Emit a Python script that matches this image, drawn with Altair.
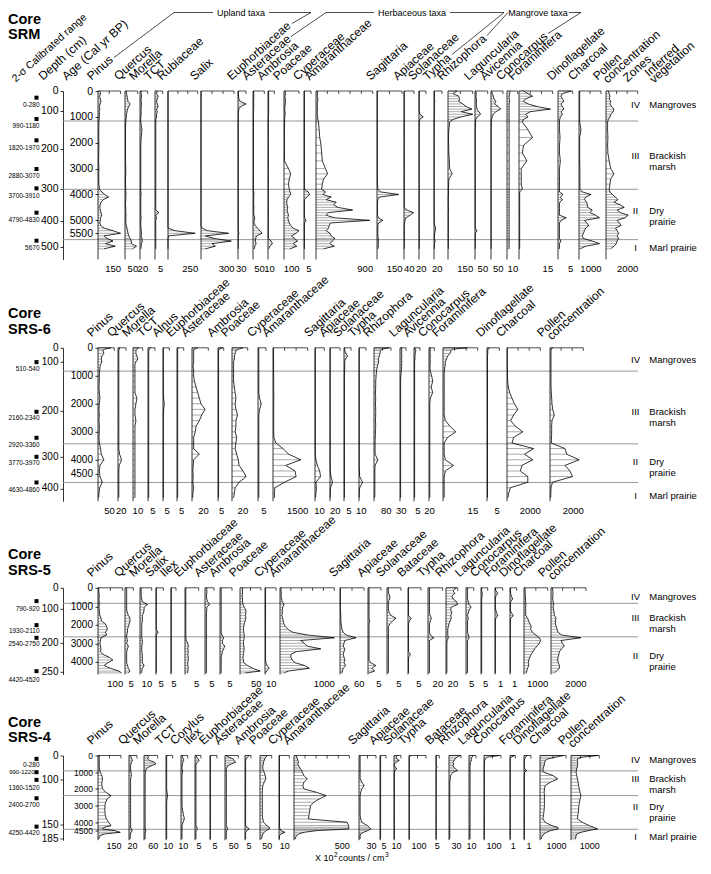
import altair as alt
import pandas as pd

FONT = "Liberation Sans"

# =====================================================================
# Core SRM  (sample ages, cal yr BP)
# =====================================================================
SRM_AGE = [0,100,200,300,400,500,600,700,800,900,1000,1100,1200,
           1500,1800,2100,2400,2700,3000,
           3200,3400,3600,3800,
           3900,4000,4100,4200,4300,4400,4500,4600,4700,4800,4900,5000,
           5100,5200,5300,5400,5500,5600,5700,5800,5900,6000,6100]
SRM_PINUS = [12,18,10,15,20,14,10,12,8,10,9,8,6, 5,5,6,5,4,6, 5,5,6,10,
             25,45,70,35,20,15,12,15,20,25,18,15, 12,18,40,100,150,40,60,100,50,115,40]
SRM_QUERCUS = [5,6,8,10,12,20,15,10,8,6,5,4,3, 2,2,2,2,2,3, 3,2,2,3,
               3,4,3,3,2,2,3,3,3,4,3,4, 3,5,8,10,12,15,20,25,25,45,30]
SRM_MORELLA = [3,3,4,3,3,4,3,3,3,3,2,2,2, 5,3,2,2,2,2, 2,2,2,2,
               2,3,2,2,2,2,2,2,2,2,3,2, 2,2,3,3,4,3,5,6,4,3,2]
SRM_TCT = [1.5,1,2,1.5,1,1.5,2,1,1.5,1,1,0.5,0.5, 0.5,0.5,0.5,0.5,0.5,0.5, 0.5,0.5,0.5,0.5,
           0.5,0.5,0.5,0.5,0.5,0.5,0.5,0.5,2.5,0.5,1,0.5, 0.5,0.5,0.5,0.5,0.5,0.5,0.5,0.5,0.5,0.5,0.5]
SRM_RUBIACEAE = [0,0,0,0,0,0,0,0,0,0,0,0,0, 0,0,0,0,0,0, 0,0,0,0,
                 0,0,0,0,0,0,0,0,0,0,0,0, 0,0,0,60,228,5,0,0,0,0,0]
SRM_SALIX = [0,0,0,0,0,0,0,0,0,0,0,0,0, 0,0,0,0,0,0, 0,0,0,0,
             0,0,0,0,0,0,0,0,0,0,0,0, 0,0,10,60,250,40,120,275,100,130,40]
SRM_EUPHORBIACEAE = [1,1,2,3,8,30,10,3,2,1,1,1,1, 1,1,1,1,1,1, 1,1,1,1,
                     1,1,1,1,1,1,1,1,1,1,1,1, 1,1,1,1,3,1,1,1,1,1,1]
SRM_ASTERACEAE = [3,3,4,3,3,3,3,3,2,2,2,2,2, 2,2,2,2,2,2, 2,2,2,2,
                  3,4,3,3,3,3,4,3,3,4,8,5, 4,10,20,30,40,15,12,10,14,8,6]
SRM_AMBROSIA = [1,1,1,1,1,1,1,1,1,1,0.5,0.5,0.5, 0.5,0.5,0.5,0.5,0.5,0.5, 0.5,0.5,0.5,0.5,
                0.5,0.5,0.5,0.5,0.5,0.5,0.5,0.5,0.5,0.5,0.5,0.5, 0.5,0.5,0.5,0.5,0.5,0.5,0.5,5,7,3,1]
SRM_POACEAE = [8,10,6,8,10,8,6,5,6,8,5,4,4, 3,3,3,3,3,30, 45,35,30,35,
               40,45,30,20,18,20,25,20,25,30,25,30, 35,45,60,100,80,50,70,90,60,85,40]
SRM_CYPERACEAE = [0.3,0.3,0.3,0.3,0.3,0.3,0.3,0.3,0.3,0.3,0.3,0.3,0.3, 0.3,0.3,0.3,0.3,0.3,0.3, 0.3,0.3,0.3,0.3,
                  3,4,2,0.3,0.3,0.3,0.3,0.3,0.3,0.3,0.3,1.5, 0.3,0.3,0.3,0.3,0.3,0.3,0.3,0.3,0.3,0.3,0.3]
SRM_AMARANTHACEAE = [20,25,20,30,25,20,20,25,20,20,25,30,40, 50,60,80,90,100,150, 185,120,100,90,
                     150,110,240,160,320,280,350,580,200,160,290,850, 230,210,200,160,220,240,300,260,220,290,120]
SRM_SAGITTARIA = [2,2,2,2,2,2,2,2,2,2,2,2,2, 2,2,2,2,2,2, 2,2,3,5,
                  20,130,15,5,3,3,3,3,3,3,8,35, 10,5,5,5,5,5,8,8,8,8,5]
SRM_APIACEAE = [1,1,1,1,1,1,1,1,1,1,1,1,1, 1,1,1,1,1,1, 1,1,1,1,
                1,1,1,1,1,1,1,10,38,25,8,4, 2,1,1,1,1,1,1,1,1,1,1]
SRM_SOLANACEAE = [0.5,0.5,0.5,0.5,0.5,0.5,0.5,0.5,0.5,3,12,2,0.5, 0.5,0.5,0.5,0.5,0.5,0.5, 0.5,0.5,0.5,0.5,
                  0.5,0.5,0.5,0.5,0.5,0.5,0.5,0.5,0.5,0.5,0.5,0.5, 0.5,0.5,0.5,0.5,0.5,0.5,0.5,0.5,0.5,0.5,0.5]
SRM_TYPHA = [1,1,1,1,2,1,1,1,1,1,1,0.5,0.5, 0.5,0.5,0.5,0.5,0.5,0.5, 0.5,0.5,0.5,0.5,
             0.5,0.5,0.5,0.5,0.5,0.5,0.5,0.5,0.5,0.5,0.5,0.5, 0.5,2,4,3,2,1,1,3,1,1,1]
SRM_RHIZOPHORA = [55,30,65,70,65,90,110,145,80,150,80,30,10, 5,3,4,5,8,10, 25,5,4,3,
                  3,3,2,2,2,2,2,3,2,2,2,2, 2,2,2,2,2,2,2,2,2,2,2]
SRM_LAGUNCULARIA = [3,5,4,5,6,5,6,8,15,22,10,3,2, 1,1,1,1,1,1, 1,1,1,1,
                    1,1,1,1,1,1,1,1,1,1,1,1, 1,1,1,8,1,1,1,1,1,1,1]
SRM_AVICENNIA = [3,5,10,12,20,15,30,40,20,10,5,2,1, 0.5,0.5,0.5,0.5,0.5,0.5, 0.5,0.5,0.5,0.5,
                 0.5,0.5,0.5,0.5,0.5,0.5,0.5,0.5,0.5,0.5,0.5,0.5, 0.5,0.5,0.5,0.5,0.5,0.5,0.5,0.5,0.5,0.5,0.5]
SRM_CONOCARPUS = [3,2.5,2,2,2.5,2,2,2,2,2,2,2,2, 2,2,2,2,2,2, 2,2,2,2,
                  2,2,2,2,2,2,2,2,2,2,2,2, 2,2,2,2,2,2,2,2,2,2,2]
SRM_FORAMINIFERA = [2,4,6,3,2,4,8,14,5,3,4,2,1.5, 4,6,2,1.5,3.5,1, 1,1,1,1.5,
                    0.3,0.3,0.3,0.3,0.3,0.3,0.3,0.3,0.3,0.3,0.3,0.3, 0.3,0.3,0.3,0.3,0.3,0.3,0.3,0.3,0.3,0.3,0.3]
SRM_DINOFLAGELLATE = [4.5,1.5,1,1.5,2,1,1.5,2,1,1.5,0.8,0.6,0.5, 0.5,0.7,0.5,0.5,0.8,0.5, 0.5,0.5,0.5,0.5,
                      0.5,1.7,0.8,1.5,0.6,0.5,0.5,0.5,0.5,0.5,2.8,1, 0.5,0.5,0.5,0.5,0.5,0.5,0.5,1,0.5,0.5,0.5]
SRM_CHARCOAL = [30,30,30,30,30,30,30,30,30,30,30,30,30, 90,30,30,30,30,40, 40,40,40,40,
                150,550,300,250,350,380,400,600,500,750,930,250, 350,450,300,250,200,150,200,600,930,300,50]
SRM_POLLEN = [150,200,250,200,300,250,350,500,450,300,250,150,100, 100,120,100,120,200,300, 500,300,250,200,
              250,400,600,750,500,900,1150,700,900,1400,1200,700, 850,950,600,700,800,700,800,700,650,500,300]

SRM_TAXA = ["Pinus","Quercus","Morella","TCT","Rubiaceae","Salix","Euphorbiaceae","Asteraceae",
            "Ambrosia","Poaceae","Cyperaceae","Amaranthaceae","Sagittaria","Apiaceae","Solanaceae",
            "Typha","Rhizophora","Laguncularia","Avicennia","Conocarpus","Foraminifera",
            "Dinoflagellate","Charcoal","Pollen concentration"]
SRM_SERIES = [SRM_PINUS,SRM_QUERCUS,SRM_MORELLA,SRM_TCT,SRM_RUBIACEAE,SRM_SALIX,SRM_EUPHORBIACEAE,
              SRM_ASTERACEAE,SRM_AMBROSIA,SRM_POACEAE,SRM_CYPERACEAE,SRM_AMARANTHACEAE,SRM_SAGITTARIA,
              SRM_APIACEAE,SRM_SOLANACEAE,SRM_TYPHA,SRM_RHIZOPHORA,SRM_LAGUNCULARIA,SRM_AVICENNIA,
              SRM_CONOCARPUS,SRM_FORAMINIFERA,SRM_DINOFLAGELLATE,SRM_CHARCOAL,SRM_POLLEN]
SRM_MAX = [150,50,20,5,250,300,30,50,10,100,5,900,150,40,20,20,150,50,50,10,15,5,1000,2000]
SRM_DEPTH_AGE = [0,760,2255,3776,5026,6044]
SRM_DEPTH_LAB = ["0","100","200","300","400","500"]
SRM_AGE_TICKS = [0,1000,2000,3000,4000,5000,5500]
SRM_CAL_AGE = [258,1082,1907,3015,3763,4704,5786]
SRM_CAL_LAB = ["0-280","990-1180","1820-1970","2880-3070","3700-3910","4790-4830","5670"]
SRM_CAL_LAB_AGE = [540,1364,2189,3297,4045,4986,6068]
SRM_ZONE_LINES = [1160,3800,5745]
SRM_ZONE_AGE = [541,2497,4623,6042]
SRM_ZONE_NUM = ["IV","III","II","I"]
SRM_ZONE_VEG = ["Mangroves","Brackish\nmarsh","Dry\nprairie","Marl prairie"]

# =====================================================================
# Core SRS-6
# =====================================================================
SRS6_AGE = [0,50,100,200,300,400,500,600,700,800,
            1000,1200,1400,1600,1800,2000,2200,2400,2600,2800,3000,3200,
            3400,3600,3800,4000,4200,4400,4600,4800,5000,5200,5350]
SRS6_PINUS = [40,20,15,18,12,10,12,8,6,5, 4,4,3,4,6,4,3,4,3,4,4,3, 4,8,10,18,6,4,6,13,5,3,2]
SRS6_QUERCUS = [5,3,2,2,2,2,2,2,2,2, 2,2,2,2,2,2,2,2,2,2,2,2, 2,2,4,9,3,2,2,2,2,2,2]
SRS6_MORELLA = [6,4,3,3,4,5,3,2,2,2, 2,2,2,2,4,3,2,2,3,2,2,2, 2,2,2,2,2,2,2,2,2,2,2]
SRS6_TCT = [2,1,0.5,0.5,0.5,0.5,0.5,0.5,0.5,0.5, 0.5,0.5,0.5,0.5,0.5,0.5,0.5,0.5,0.5,0.5,0.5,0.5,
            0.5,0.5,0.5,0.5,0.5,0.5,0.5,0.5,0.5,0.5,0.5]
SRS6_ALNUS = [0.3,0.3,0.3,0.3,0.3,0.3,0.3,0.3,0.3,0.3, 0.3,0.3,0.3,0.3,0.5,1,0.5,0.3,0.3,0.3,0.3,0.3,
              0.3,0.3,0.3,0.3,0.3,0.3,0.3,0.3,0.3,0.3,0.3]
SRS6_EUPHORBIACEAE = [1,0.5,0.5,0.5,0.5,0.5,0.5,0.5,0.5,0.5, 0.5,0.5,0.5,0.5,0.5,0.5,0.5,0.5,0.5,0.5,0.5,0.5,
                      0.5,0.5,0.5,0.5,0.5,0.5,0.5,0.5,0.5,0.5,0.5]
SRS6_ASTERACEAE = [7,3,2,2,2,2,2,1.5,1.5,2, 2,3,5,7,9,11,16,12,9,5,4,2, 2,2,9,2,1.5,1,1.5,1,2,1,1]
SRS6_AMBROSIA = [4,1,0.5,0.5,0.5,0.5,0.5,0.5,0.5,0.5, 0.5,0.5,0.5,0.5,0.5,0.5,0.5,0.5,0.5,0.5,0.5,0.5,
                 0.5,0.5,0.5,0.5,0.5,0.5,0.5,0.5,0.5,0.5,0.5]
SRS6_POACEAE = [14,8,5,4,3,3,2,2,2,2, 2,2,3,4,5,4,5,7,5,5,4,6, 5,4,6,8,9,14,18,9,4,3,2]
SRS6_CYPERACEAE = [0.5,0.5,0.5,0.5,0.5,0.5,0.5,0.5,0.5,0.5, 0.5,0.5,0.5,0.5,1,2,1,0.5,0.5,0.5,0.5,0.5,
                   0.5,0.5,0.5,0.5,0.5,0.5,0.5,0.5,0.5,0.5,0.5]
SRS6_AMARANTHACEAE = [20,20,25,20,25,20,25,30,25,25, 30,30,30,30,35,30,30,30,30,30,30,40,
                      120,430,680,1200,550,950,1000,500,80,60,70]
SRS6_SAGITTARIA = [0.3,0.3,0.3,0.3,0.3,0.3,0.3,0.3,0.3,0.3, 0.3,0.3,0.3,0.3,0.3,0.3,0.3,0.3,0.3,0.3,0.3,0.3,
                   0.3,0.3,0.3,1,2.5,5,6,1,1.5,1,0.5]
SRS6_APIACEAE = [0.3,0.3,0.3,0.3,0.3,0.3,0.3,0.3,0.3,0.3, 0.3,0.3,0.3,0.3,0.3,0.3,0.3,0.3,0.3,0.3,0.3,0.3,
                 0.3,0.3,0.3,0.3,0.3,0.5,2,5,1,0.5,0.3]
SRS6_SOLANACEAE = [0.5,0.5,0.5,1.5,2.5,1,0.5,0.5,0.5,0.5, 0.3,0.3,0.3,0.3,0.3,0.3,0.3,0.3,0.3,0.3,0.3,0.3,
                   0.3,0.3,0.3,0.3,0.3,0.3,0.3,0.3,0.3,0.3,0.3]
SRS6_TYPHA = [0.3,0.3,0.3,0.3,0.3,0.3,0.3,0.3,0.3,0.3, 0.3,0.3,0.3,0.3,0.3,0.3,0.3,0.3,0.3,0.3,0.3,0.3,
              0.3,0.3,0.3,0.3,0.3,0.5,1,5,1,0.3,0.3]
SRS6_RHIZOPHORA = [72,35,30,28,25,20,22,18,15,12, 10,8,8,7,8,7,8,8,7,8,7,6, 5,5,5,18,5,4,4,4,4,4,3]
SRS6_LAGUNCULARIA = [9,8,9,8,9,8,9,8,8,7, 4,3,3,3,3,3,3,3,3,3,3,3, 3,3,3,3,3,3,3,3,3,3,3]
SRS6_AVICENNIA = [1,1,1.5,1,0.8,0.8,0.5,0.5,0.5,0.5, 0.5,0.5,0.5,0.5,0.5,0.5,0.5,0.5,0.5,0.5,0.5,0.5,
                  0.5,0.5,0.5,0.5,0.5,0.5,0.5,0.5,0.5,0.5,0.5]
SRS6_CONOCARPUS = [5,4,5,4,5,4,5,4,4,4, 10,14,8,14,5,3,3,3,3,3,3,3, 3,3,3,3,3,3,3,3,3,3,3]
SRS6_FORAMINIFERA = [10.5,4,3.5,3,2,1.5,1,1,0.8,0.6, 0.5,0.5,0.5,0.5,0.5,0.5,0.5,0.5,1,3,5.5,2,
                     0.5,0.5,0.5,1,4.5,1,0.5,0.5,0.5,0.5,0.5]
SRS6_DINOFLAGELLATE = [1,0.5,0.3,0.3,0.2,0.2,0.2,0.2,0.2,0.2, 0.2,0.2,0.2,0.2,0.2,0.2,0.2,0.2,0.2,0.2,0.2,0.2,
                       0.2,0.2,0.2,0.2,0.2,0.2,0.2,0.2,0.2,0.2,0.2]
SRS6_CHARCOAL = [30,20,20,25,20,20,25,20,20,30, 30,40,80,160,300,450,650,400,220,500,950,400,
                 300,1600,1050,1550,900,800,1250,1250,200,100,60]
SRS6_POLLEN = [150,100,60,60,60,60,60,60,60,60, 60,60,60,80,100,120,160,260,120,100,100,90,
               80,900,1000,1750,900,1200,1350,150,60,50,40]

SRS6_TAXA = ["Pinus","Quercus","Morella","TCT","Alnus","Euphorbiaceae","Asteraceae","Ambrosia",
             "Poaceae","Cyperaceae","Amaranthaceae","Sagittaria","Apiaceae","Solanaceae","Typha",
             "Rhizophora","Laguncularia","Avicennia","Conocarpus","Foraminifera","Dinoflagellate",
             "Charcoal","Pollen concentration"]
SRS6_SERIES = [SRS6_PINUS,SRS6_QUERCUS,SRS6_MORELLA,SRS6_TCT,SRS6_ALNUS,SRS6_EUPHORBIACEAE,
               SRS6_ASTERACEAE,SRS6_AMBROSIA,SRS6_POACEAE,SRS6_CYPERACEAE,SRS6_AMARANTHACEAE,
               SRS6_SAGITTARIA,SRS6_APIACEAE,SRS6_SOLANACEAE,SRS6_TYPHA,SRS6_RHIZOPHORA,
               SRS6_LAGUNCULARIA,SRS6_AVICENNIA,SRS6_CONOCARPUS,SRS6_FORAMINIFERA,
               SRS6_DINOFLAGELLATE,SRS6_CHARCOAL,SRS6_POLLEN]
SRS6_MAX = [50,20,10,5,5,5,20,5,20,5,1500,10,20,5,10,80,30,5,20,15,5,2000,2000]
SRS6_DEPTH_AGE = [0,512,2250,3893,5024]
SRS6_DEPTH_LAB = ["0","100","200","300","400"]
SRS6_AGE_TICKS = [0,1000,2000,3000,4000,4500]
SRS6_CAL_AGE = [512,2286,3214,3893,4810]
SRS6_CAL_LAB = ["510-540","2160-2340","2920-3360","3770-3970","4630-4860"]
SRS6_CAL_LAB_AGE = [761,2500,3476,4131,5083]
SRS6_ZONE_LINES = [833,3430,4810]
SRS6_ZONE_AGE = [404,2261,4046,5286]
SRS6_ZONE_NUM = ["IV","III","II","I"]
SRS6_ZONE_VEG = ["Mangroves","Brackish\nmarsh","Dry\nprairie","Marl prairie"]

# =====================================================================
# Core SRS-5
# =====================================================================
SRS5_AGE = [0,150,300,450,600,750,900,1050,1200,1350,1500,
            1650,1800,1950,2100,2250,2400,2550,2700,2850,3000,
            3150,3300,3450,3600,3750,3900,4050,4200,4350,4500,4600]
SRS5_PINUS = [4,3,4,5,4,5,5,4,5,6,8, 12,15,30,35,38,30,35,12,10,8, 10,12,10,20,45,60,40,25,50,85,95]
SRS5_QUERCUS = [1,1,1,1,1,1,1,1,1,1.5,2, 3,3,2.5,2,1.5,1.5,1,1,1.5,1, 2,1.5,1,1,1,1,1,1.5,2,3,2]
SRS5_MORELLA = [1,1,1,1,1.5,2,6.5,3.5,3.5,3,2, 2,2,1.5,1.5,1.5,1.5,1.5,1.5,2,2, 1.5,1.5,1.5,2,2,2,2,3.5,2,1.5,1.5]
SRS5_SALIX = [0.2,0.2,0.2,0.2,0.2,0.2,0.2,0.2,0.2,0.2,0.2, 0.2,0.2,0.2,0.2,0.2,1.5,0.2,0.2,0.2,0.2,
              0.2,0.2,0.2,0.2,0.2,0.2,0.2,0.2,0.2,0.2,0.2]
SRS5_ILEX = [0.2,0.2,0.2,0.2,0.2,0.2,0.2,0.2,0.2,0.2,0.2, 0.2,0.2,0.2,0.2,0.2,0.2,0.2,0.2,0.2,0.2,
             0.2,0.2,0.2,0.2,0.2,0.2,0.2,0.2,0.2,0.2,0.2]
SRS5_EUPHORBIACEAE = [0.3,0.3,0.3,0.3,0.3,0.3,0.3,0.3,0.3,0.3,0.3, 0.3,0.3,0.3,0.3,0.3,0.3,0.3,0.3,0.5,1,
                      1.2,1,1.2,1,1.2,1.2,1,1,1.2,1,1]
SRS5_ASTERACEAE = [1,1,1,0.8,1,1.5,2.5,1,1,0.8,0.8, 0.8,0.8,0.8,0.8,0.8,0.8,0.8,0.8,0.8,0.8,
                   0.8,0.8,0.8,0.8,0.8,0.8,0.8,0.8,0.8,0.8,0.8]
SRS5_AMBROSIA = [0.5,0.5,0.5,0.5,0.5,0.5,0.5,0.5,0.5,0.5,0.5, 0.5,0.5,0.5,0.5,0.5,0.5,0.8,1.5,1,1,
                 2,1.5,1,0.8,0.5,0.5,0.5,0.5,0.5,0.5,0.5]
SRS5_POACEAE = [6,6,6,5,6,6,7,10,14,14,13, 14,12,10,9,8,9,10,10,9,8, 9,10,9,8,7,8,9,18,30,48,12]
SRS5_CYPERACEAE = [0.5,0.5,0.5,0.5,0.5,0.5,0.5,0.5,0.5,0.5,0.5, 0.5,0.5,0.5,0.5,0.5,0.5,0.5,0.5,0.5,0.5,
                   0.5,0.5,0.5,0.5,0.5,0.5,0.8,2,3.7,1.5,0.5]
SRS5_AMARANTHACEAE = [20,20,25,20,30,40,75,50,40,45,35, 50,60,70,100,150,230,500,1000,380,450,
                      500,750,300,200,200,220,280,450,540,150,80]
SRS5_SAGITTARIA = [1,1,1,1,1,1,1,1,1,1.5,2, 2,2,3,4,5,8,15,40,12,10, 8,12,10,8,10,12,10,14,8,6,5]
SRS5_APIACEAE = [0.4,0.4,0.4,0.4,0.4,0.4,0.4,0.4,0.4,0.4,0.4, 0.4,0.6,0.4,0.4,0.4,0.4,0.4,0.4,0.4,0.4,
                 0.4,0.4,0.4,0.4,0.4,0.4,1,3,1.5,2.5,0.5]
SRS5_SOLANACEAE = [0.5,0.5,0.5,1,1,0.5,0.5,0.5,0.5,0.8,1.5, 3.2,2,1,0.5,0.5,0.5,0.5,0.5,0.5,0.5,
                   0.5,0.5,0.5,0.5,0.5,0.5,0.5,0.5,0.5,0.5,0.5]
SRS5_BATACEAE = [0.2,0.2,0.2,0.2,0.2,0.2,0.2,0.2,0.2,0.2,0.2, 1.2,0.5,0.2,0.2,0.2,0.2,0.2,0.2,0.2,0.2,
                 0.2,0.2,0.2,1,0.2,0.2,0.2,0.2,0.2,0.2,0.2]
SRS5_TYPHA = [2,2,2,2,2,2,2,2,2,2,3, 4.6,3,2,2,2,2,3,8,2,2, 2,2,2,2,2,2,2,2,2,2,2]
SRS5_RHIZOPHORA = [18,12,15,10,12,18,20,9,8,10,8, 9,7,5,4,3,3,3,4,2,1.5,
                   1.5,1.5,1.5,1.5,1.5,1.5,1.5,1.5,1.5,1.5,1.5]
SRS5_LAGUNCULARIA = [1,1,1,1,1,1.5,2,3.3,2,1.5,1, 1.5,1,1,1,1,1,1.5,2,1,1, 1,1,1,1,1,1,1,1,1,1,1]
SRS5_CONOCARPUS = [0.5,0.5,1,0.8,0.5,0.5,0.5,0.5,0.5,0.5,0.5, 0.5,0.5,0.5,0.5,0.5,0.5,0.5,0.5,0.5,0.5,
                   0.5,0.5,0.5,0.5,0.5,0.5,0.5,0.5,0.5,0.5,0.5]
SRS5_FORAMINIFERA = [0.05,0.1,0.35,0.1,0.05,0.05,0.05,0.05,0.1,0.2,0.35,
                     0.1,0.05,0.05,0.05,0.05,0.05,0.05,0.05,0.05,0.05,
                     0.05,0.05,0.05,0.05,0.05,0.05,0.05,0.05,0.05,0.05,0.05]
SRS5_DINOFLAGELLATE = [0.05,0.05,0.1,0.2,0.4,0.1,0.05,0.05,0.05,0.2,0.5,
                       0.1,0.05,0.05,0.05,0.05,0.05,0.05,0.05,0.05,0.05,
                       0.05,0.05,0.05,0.05,0.05,0.05,0.05,0.05,0.05,0.05,0.05]
SRS5_CHARCOAL = [40,50,50,60,60,70,80,70,70,70,80, 150,200,250,300,280,350,500,650,700,650,
                 550,450,380,300,250,200,180,200,150,120,100]
SRS5_POLLEN = [80,100,120,100,100,120,150,120,150,180,200, 290,250,250,300,350,400,600,1700,570,650,
               760,600,480,450,400,380,420,480,480,300,200]

SRS5_TAXA = ["Pinus","Quercus","Morella","Salix","Ilex","Euphorbiaceae","Asteraceae","Ambrosia",
             "Poaceae","Cyperaceae","Amaranthaceae","Sagittaria","Apiaceae","Solanaceae","Bataceae",
             "Typha","Rhizophora","Laguncularia","Conocarpus","Foraminifera","Dinoflagellate",
             "Charcoal","Pollen concentration"]
SRS5_SERIES = [SRS5_PINUS,SRS5_QUERCUS,SRS5_MORELLA,SRS5_SALIX,SRS5_ILEX,SRS5_EUPHORBIACEAE,
               SRS5_ASTERACEAE,SRS5_AMBROSIA,SRS5_POACEAE,SRS5_CYPERACEAE,SRS5_AMARANTHACEAE,
               SRS5_SAGITTARIA,SRS5_APIACEAE,SRS5_SOLANACEAE,SRS5_BATACEAE,SRS5_TYPHA,SRS5_RHIZOPHORA,
               SRS5_LAGUNCULARIA,SRS5_CONOCARPUS,SRS5_FORAMINIFERA,SRS5_DINOFLAGELLATE,
               SRS5_CHARCOAL,SRS5_POLLEN]
SRS5_MAX = [100,5,10,5,5,5,5,5,50,10,1000,60,5,5,5,20,20,5,5,1,1,1000,2000]
SRS5_DEPTH_AGE = [0,1153,2973,4540]
SRS5_DEPTH_LAB = ["0","100","200","250"]
SRS5_AGE_TICKS = [0,1000,2000,3000,4000]
SRS5_CAL_AGE = [721,2018,2703,4505]
SRS5_CAL_LAB = ["790-920","1930-2110","2540-2750","4420-4520"]
SRS5_CAL_LAB_AGE = [1119,2346,3011,4995]
SRS5_ZONE_LINES = [840,2650]
SRS5_ZONE_AGE = [486,1622,3676]
SRS5_ZONE_NUM = ["IV","III","II"]
SRS5_ZONE_VEG = ["Mangroves","Brackish\nmarsh","Dry\nprairie"]

# =====================================================================
# Core SRS-4
# =====================================================================
SRS4_AGE = [0,100,200,300,400,500,600,700,800,900,1000,
            1200,1400,1600,1800,2000,2200,2400,2600,2800,3000,3200,3400,3600,3800,4000,4200,
            4300,4400,4500,4600,4700,4800,4900,5000]
SRS4_PINUS = [8,9,7,8,9,8,9,8,10,12,15, 25,30,25,25,30,50,85,60,50,45,45,45,48,55,70,85, 40,30,110,145,40,15,8,5]
SRS4_QUERCUS = [4,5,7,9,6,5,4,4,4,4,5, 6,4,4,4,4,4,4,4,4,4,4,4,4,4,4,4, 4,6,8,5,4,3,3,3]
SRS4_MORELLA = [15,20,15,25,45,52,35,20,10,8,6, 5,5,5,5,5,5,5,5,5,5,5,5,5,5,5,5, 5,6,8,6,5,5,5,5]
SRS4_TCT = [1.5,1,1,1,1,1,1,1,1,1,1, 1,1,1,1,1,1.5,2.5,1.5,1,1,1,1,1,1,1,1, 1,1,1,1,1,1,1,1]
SRS4_CORYLUS = [2,2,4,4,3,2,2,1.5,1.5,2.5,2, 1.5,1.5,1.5,1.5,1.5,1.5,1.5,1.5,1.5,1.5,2,3,4,5,3,1.5,
                1.5,1.5,1.5,1.5,1.5,1.5,1.5,1.5]
SRS4_ILEX = [0.8,1.5,2.5,3.5,2,1,0.8,0.8,0.8,0.8,0.8, 0.8,0.8,0.8,0.8,0.8,0.8,0.8,0.8,0.8,0.8,0.8,0.8,0.8,0.8,0.8,0.8,
             1.5,2,1,0.8,0.8,0.8,0.8,0.8]
SRS4_EUPHORBIACEAE = [0.3,0.3,0.3,0.3,0.3,0.3,0.3,0.3,0.3,0.3,0.3,
                      0.3,0.3,0.3,0.3,0.3,0.3,0.3,0.3,0.3,0.3,0.3,0.3,0.3,0.3,0.3,0.3,
                      0.3,0.3,0.3,0.3,0.3,0.3,0.3,0.3]
SRS4_ASTERACEAE = [5,15,30,35,40,25,12,8,5,5,5, 5,5,5,5,5,5,5,5,5,5,5,5,5,5,5,5, 8,10,6,5,5,5,5,5]
SRS4_AMBROSIA = [3.5,2,1,0.5,0.5,0.5,0.5,0.5,0.5,0.5,0.5,
                 0.5,0.5,0.5,0.5,0.5,0.5,0.5,0.5,0.5,0.5,0.5,0.5,0.5,0.5,0.5,0.5,
                 2,3.5,1.5,0.5,0.5,0.5,0.5,0.5]
SRS4_POACEAE = [32,25,20,18,15,15,12,12,12,15,18, 22,25,18,12,10,10,10,10,10,10,10,10,10,12,15,30,
                40,40,25,18,12,10,8,6]
SRS4_CYPERACEAE = [0.5,0.5,0.5,0.5,0.5,0.5,0.5,0.5,0.5,0.5,0.5,
                   0.5,0.5,0.5,0.5,0.5,0.5,0.5,0.5,0.5,0.5,0.5,0.5,0.5,0.5,0.5,0.5,
                   0.5,1,2,5.7,2,0.5,0.5,0.5]
SRS4_AMARANTHACEAE = [20,25,30,35,40,35,40,50,60,70,75, 90,120,90,80,90,200,290,230,180,150,145,140,135,130,480,495,
                      495,495,200,90,40,25,15,12]
SRS4_SAGITTARIA = [2,2,2,2,2,2,2,2,2,2,2, 2,2,5,9,5,3,2,2,2,2,2,2,2,3,5,15, 18,21,15,8,3,2,2,2]
SRS4_APIACEAE = [0.5,0.5,0.5,0.5,0.5,0.5,0.5,0.5,0.5,0.5,0.5,
                 0.5,0.5,0.5,0.5,0.5,0.5,0.5,0.5,0.5,0.5,0.5,0.5,0.5,0.5,0.5,0.5,
                 0.5,0.5,0.5,0.5,0.5,0.5,0.5,0.5]
SRS4_SOLANACEAE = [5,3,4,7.5,3,1,0.5,2,4,1,0.5,
                   0.5,0.5,0.5,0.5,0.5,0.5,0.5,0.5,0.5,0.5,0.5,0.5,0.5,0.5,0.5,0.5,
                   0.5,0.5,0.5,0.5,0.5,0.5,0.5,0.5]
SRS4_TYPHA = [10,3,2,2,2,2,2,2,2,2,2, 2,2,2,2,2,2,2,2,2,2,2,2,2,2,2,2, 2,2,2,2,2,2,2,2]
SRS4_BATACEAE = [0.3,0.3,0.3,0.3,0.3,0.3,0.5,1.5,0.5,0.3,0.3,
                 0.3,0.3,0.3,0.3,0.3,0.3,0.3,0.3,0.3,0.3,0.3,0.3,0.3,0.3,0.3,0.3,
                 0.3,0.3,0.3,0.3,0.3,0.3,0.3,0.3]
SRS4_RHIZOPHORA = [28,20,15,13,10,12,10,12,16,21,10, 4,3,2,2,2,2,2,2,2,2,2,2,2,2,2,2, 2,2,2,2,2,2,2,2]
SRS4_LAGUNCULARIA = [6.5,4,3,3.5,2,2,1.5,1.5,1.5,1.5,1.5,
                     1.5,1.5,1.5,1.5,1.5,1.5,1.5,1.5,1.5,1.5,1.5,1.5,1.5,1.5,1.5,1.5,
                     1.5,1.5,1.5,1.5,1.5,1.5,1.5,1.5]
SRS4_CONOCARPUS = [90,20,8,4,3,2,2,2,2,2,2, 2,2,2,2,2,2,2,2,2,2,2,2,2,2,2,2, 2,2,2,2,2,2,2,2]
SRS4_FORAMINIFERA = [0.9,0.2,0.05,0.05,0.05,0.05,0.05,0.05,0.05,0.05,0.05,
                     0.05,0.05,0.05,0.05,0.05,0.05,0.05,0.05,0.05,0.05,0.05,0.05,0.05,0.05,0.05,0.05,
                     0.05,0.05,0.05,0.05,0.05,0.05,0.05,0.05]
SRS4_DINOFLAGELLATE = [0.5,0.2,0.1,0.05,0.05,0.05,0.05,0.05,0.1,0.4,0.1,
                       0.05,0.05,0.05,0.05,0.05,0.05,0.05,0.05,0.05,0.05,0.05,0.05,0.05,0.05,0.05,0.05,
                       0.05,0.05,0.05,0.05,0.05,0.05,0.05,0.05]
SRS4_CHARCOAL = [900,600,300,200,180,170,160,140,120,110,150,
                 500,680,400,200,170,160,170,170,170,170,160,150,130,110,200,450,
                 680,700,400,250,150,100,60,50]
SRS4_POLLEN = [950,400,230,230,230,240,230,220,200,190,180,
               200,230,250,270,290,320,350,320,300,280,270,260,240,230,400,650,
               800,940,600,350,200,180,170,160]

SRS4_TAXA = ["Pinus","Quercus","Morella","TCT","Corylus","Ilex","Euphorbiaceae","Asteraceae",
             "Ambrosia","Poaceae","Cyperaceae","Amaranthaceae","Sagittaria","Apiaceae","Solanaceae",
             "Typha","Bataceae","Rhizophora","Laguncularia","Conocarpus","Foraminifera",
             "Dinoflagellate","Charcoal","Pollen concentration"]
SRS4_SERIES = [SRS4_PINUS,SRS4_QUERCUS,SRS4_MORELLA,SRS4_TCT,SRS4_CORYLUS,SRS4_ILEX,
               SRS4_EUPHORBIACEAE,SRS4_ASTERACEAE,SRS4_AMBROSIA,SRS4_POACEAE,SRS4_CYPERACEAE,
               SRS4_AMARANTHACEAE,SRS4_SAGITTARIA,SRS4_APIACEAE,SRS4_SOLANACEAE,SRS4_TYPHA,
               SRS4_BATACEAE,SRS4_RHIZOPHORA,SRS4_LAGUNCULARIA,SRS4_CONOCARPUS,SRS4_FORAMINIFERA,
               SRS4_DINOFLAGELLATE,SRS4_CHARCOAL,SRS4_POLLEN]
SRS4_MAX = [150,20,60,10,10,5,5,50,5,50,10,500,30,5,10,100,5,30,10,100,1,1,1000,1000]
SRS4_DEPTH_AGE = [0,1460,4160,5000]
SRS4_DEPTH_LAB = ["0","100","150","185"]
SRS4_AGE_TICKS = [0,1000,2000,3000,4000,4500]
SRS4_CAL_AGE = [200,1000,1460,2560,4260]
SRS4_CAL_LAB = ["0-280","990-1220","1360-1520","2400-2700","4250-4420"]
SRS4_CAL_LAB_AGE = [563,1000,1958,2994,4653]
SRS4_ZONE_LINES = [920,2400,4420]
SRS4_ZONE_AGE = [263,1359,3054,4850]
SRS4_ZONE_NUM = ["IV","III","II","I"]
SRS4_ZONE_VEG = ["Mangroves","Brackish\nmarsh","Dry\nprairie","Marl prairie"]

# =====================================================================
# Layout (pixel geometry of the panels, not data); integer column edges
# =====================================================================
X_DEPTH = 62          # depth axis line
X_ZONE_END = 637      # right end of zone lines
ZONE_COLOR = "#8c8c8c"

CORES = [
    dict(name="SRM", ages=SRM_AGE, taxa=SRM_TAXA, series=SRM_SERIES, vmax=SRM_MAX,
         left=[97,124,139,154,167,200,237,252,267,283,303,315,376,403,418,433,447,474,490,506,518,557,578,605],
         right=[119.5,136.7,146.7,161.7,196.7,233.0,245.0,263.3,273.3,298.0,310.0,371.7,401.0,413.0,
                425.0,441.0,471.7,486.7,502.0,516.7,551.7,571.7,600.0,636.7],
         top=91.5, height=168.5, amax=6513, axis_fs=10.5, age_fs=10.5, title_y=(20, 35), bpad=4, bfs=9.5,
         depth_age=SRM_DEPTH_AGE, depth_lab=SRM_DEPTH_LAB, age_ticks=SRM_AGE_TICKS,
         cal_age=SRM_CAL_AGE, cal_lab=SRM_CAL_LAB, cal_lab_age=SRM_CAL_LAB_AGE, cal_side=[0,0,0,0,0,0,0],
         zone_lines=SRM_ZONE_LINES, zone_age=SRM_ZONE_AGE, zone_num=SRM_ZONE_NUM, zone_veg=SRM_ZONE_VEG),
    dict(name="SRS-6", ages=SRS6_AGE, taxa=SRS6_TAXA, series=SRS6_SERIES, vmax=SRS6_MAX,
         left=[97,117,132,147,162,176,191,217,231,257,272,314,329,343,358,373,399,413,428,442,486,506,549],
         right=[113.3,125.0,141.7,154.0,168.3,182.7,207.3,222.7,246.7,265.0,306.7,323.3,339.0,350.0,
                365.0,390.0,405.0,419.0,433.3,476.7,498.3,539.3,582.3],
         top=348.3, height=153.4, amax=5479, axis_fs=10, age_fs=10, title_y=(314, 330), bpad=4, bfs=9.5,
         depth_age=SRS6_DEPTH_AGE, depth_lab=SRS6_DEPTH_LAB, age_ticks=SRS6_AGE_TICKS,
         cal_age=SRS6_CAL_AGE, cal_lab=SRS6_CAL_LAB, cal_lab_age=SRS6_CAL_LAB_AGE, cal_side=[0,0,0,0,0],
         zone_lines=SRS6_ZONE_LINES, zone_age=SRS6_ZONE_AGE, zone_num=SRS6_ZONE_NUM, zone_veg=SRS6_ZONE_VEG),
    dict(name="SRS-5", ages=SRS5_AGE, taxa=SRS5_TAXA, series=SRS5_SERIES, vmax=SRS5_MAX,
         left=[97,124,139,155,170,184,204,219,239,264,279,339,367,386,407,427,445,465,480,494,509,523,550],
         right=[121.7,132.3,150.7,162.3,175.0,197.7,213.0,231.0,260.0,275.0,333.3,363.0,380.0,400.0,
                420.0,441.7,456.7,472.7,486.7,501.7,515.7,546.7,585.0],
         top=588.3, height=86.7, amax=4686, axis_fs=10, age_fs=10, title_y=(555, 571), bpad=4, bfs=9.5,
         depth_age=SRS5_DEPTH_AGE, depth_lab=SRS5_DEPTH_LAB, age_ticks=SRS5_AGE_TICKS,
         cal_age=SRS5_CAL_AGE, cal_lab=SRS5_CAL_LAB, cal_lab_age=SRS5_CAL_LAB_AGE, cal_side=[0,0,0,0],
         zone_lines=SRS5_ZONE_LINES, zone_age=SRS5_ZONE_AGE, zone_num=SRS5_ZONE_NUM, zone_veg=SRS5_ZONE_VEG),
    dict(name="SRS-4", ages=SRS4_AGE, taxa=SRS4_TAXA, series=SRS4_SERIES, vmax=SRS4_MAX,
         left=[97,128,143,165,180,194,209,224,244,259,278,293,358,379,393,408,435,448,468,483,509,523,539,570],
         right=[120.0,136.0,156.7,171.7,186.7,200.0,216.0,237.3,250.0,270.7,288.3,348.3,375.0,385.0,
                400.0,425.0,438.3,460.0,475.0,500.0,514.3,530.0,565.0,598.3],
         top=756.0, height=84.7, amax=5072, axis_fs=10, age_fs=8.5, title_y=(723, 738), bpad=1, bfs=9,
         depth_age=SRS4_DEPTH_AGE, depth_lab=SRS4_DEPTH_LAB, age_ticks=SRS4_AGE_TICKS,
         cal_age=SRS4_CAL_AGE, cal_lab=SRS4_CAL_LAB, cal_lab_age=SRS4_CAL_LAB_AGE, cal_side=[0,1,0,0,0],
         zone_lines=SRS4_ZONE_LINES, zone_age=SRS4_ZONE_AGE, zone_num=SRS4_ZONE_NUM, zone_veg=SRS4_ZONE_VEG),
]

ONE = pd.DataFrame({"k": [0]})
HEAD_ANGLE = 318
CAL_FS = 6.5


def long_df(name, ages, taxa, series):
    rows = []
    for t, vals in zip(taxa, series):
        if len(vals) != len(ages):
            raise ValueError("%s %s: %d values for %d ages" % (name, t, len(vals), len(ages)))
        for a, v in zip(ages, vals):
            rows.append((a, t, v))
    return pd.DataFrame(rows, columns=["age", "taxon", "value"])


def tick_values(vmax, wcol):
    n = max(1, int(round(wcol / 11.0)))
    return [vmax * k / n for k in range(1, n + 1)]


def txt(s, x, y, fs=12, angle=None, align="left", baseline="bottom", weight="normal"):
    kw = dict(align=align, baseline=baseline, fontSize=fs, font=FONT, color="black", fontWeight=weight)
    if angle is not None:
        kw["angle"] = angle
    return alt.Chart(ONE).mark_text(**kw).encode(x=alt.value(x), y=alt.value(y), text=alt.value(s))


def seg(x1, y1, x2, y2, ox, oy):
    return alt.Chart(ONE).mark_rule(color="black", strokeWidth=0.7).encode(
        x=alt.value(x1 - ox), y=alt.value(y1 - oy), x2=alt.value(x2 - ox), y2=alt.value(y2 - oy))


GY = 13
GROUP_LINES = [(173, GY, 212, GY), (268, GY, 310, GY), (173, GY, 113, 58), (310, GY, 291, 24),
               (325, GY, 373, GY), (449, GY, 503, GY), (325, GY, 290, 37), (503, GY, 451, 55),
               (507, GY, 486, 36), (568, GY, 580, GY), (580, GY, 547, 34)]
GROUP_TEXT = [("Upland taxa", 240, GY), ("Herbaceous taxa", 411, GY), ("Mangrove taxa", 537, GY)]


def axis_common(fs):
    return dict(tickColor="black", tickWidth=0.8, tickSize=3, labelFontSize=fs, labelColor="black",
                labelFont=FONT, grid=False, title=None, labelFlush=False, labelOverlap=False)


def left_chart(c, ys, zdf):
    W = c["left"][0] - X_DEPTH
    top = c["top"]
    daxis = alt.Axis(orient="left", values=c["depth_age"], labels=False, domain=True,
                     domainColor="black", domainWidth=0.8, ticks=True, **axis_common(c["axis_fs"]))
    yq = alt.Y("age:Q", scale=ys, axis=daxis)
    cal = pd.DataFrame({"age": c["cal_age"], "lage": c["cal_lab_age"], "label": c["cal_lab"],
                        "side": c["cal_side"]})
    depth = pd.DataFrame({"dage": c["depth_age"], "lab": c["depth_lab"]})
    layers = [
        alt.Chart(zdf).mark_rule(color=ZONE_COLOR, strokeWidth=0.9).encode(
            y=yq, x=alt.value(0), x2=alt.value(W)),
        alt.Chart(cal).mark_square(size=16, color="black", opacity=1).encode(
            y=yq, x=alt.value(35.5 - X_DEPTH)),
        alt.Chart(cal).transform_filter("datum.side == 0").mark_text(
            align="right", baseline="middle", fontSize=CAL_FS, font=FONT, color="black").encode(
            y=alt.Y("lage:Q", scale=ys, axis=daxis), x=alt.value(38.5 - X_DEPTH), text="label:N"),
        alt.Chart(cal).transform_filter("datum.side == 1").mark_text(
            align="right", baseline="middle", fontSize=6.0, font=FONT, color="black").encode(
            y=alt.Y("lage:Q", scale=ys, axis=daxis), x=alt.value(33.5 - X_DEPTH), text="label:N"),
        alt.Chart(depth).mark_text(align="right", baseline="middle", fontSize=c["axis_fs"], font=FONT,
                                   color="black").encode(
            y=alt.Y("dage:Q", scale=ys, axis=daxis), x=alt.value(-4.5), text="lab:N"),
        txt("Core", 7 - X_DEPTH, c["title_y"][0] - top, fs=14.5, baseline="middle", weight="bold"),
        txt(c["name"], 7 - X_DEPTH, c["title_y"][1] - top, fs=14.5, baseline="middle", weight="bold"),
    ]
    if c["name"] == "SRM":
        layers.append(txt("2-\u03c3 Calibrated range", 16 - X_DEPTH, -7, fs=10.5, angle=HEAD_ANGLE))
        layers.append(txt("Depth (cm)", 44 - X_DEPTH, -8, fs=12, angle=HEAD_ANGLE))
        layers.append(txt("Age (Cal yr BP)", 67.5 - X_DEPTH, -8, fs=12, angle=HEAD_ANGLE))
        for (x1, y1, x2, y2) in GROUP_LINES:
            layers.append(seg(x1, y1, x2, y2, X_DEPTH, top))
        for (s, x, y) in GROUP_TEXT:
            layers.append(txt(s, x - X_DEPTH, y - top, fs=9, align="center", baseline="middle"))
    return alt.layer(*layers).properties(width=W, height=c["height"])


def column_chart(c, i, df, tdf, zdf, ys, W):
    taxon = c["taxa"][i]
    vmax = c["vmax"][i]
    left = c["left"][i]
    wcol = c["right"][i] - left
    H = c["height"]
    top = c["top"]
    if i == 0:
        aaxis = alt.Axis(orient="left", values=c["age_ticks"], format="d", domain=False, ticks=True,
                         labelPadding=2.5, **axis_common(c["age_fs"]))
        yq = alt.Y("age:Q", scale=ys, axis=aaxis)
    else:
        yq = alt.Y("age:Q", scale=ys, axis=None)
    xs = alt.Scale(domain=[0, vmax * W / wcol], nice=False, zero=False)
    bx = alt.Axis(orient="bottom", values=[vmax], format="d", labelAlign="right", labelFlush=False,
                  labelOverlap=False, domain=False, ticks=False, grid=False, labelFontSize=c["bfs"],
                  labelPadding=c["bpad"], labelColor="black", labelFont=FONT, title=None)
    xq = alt.X("value:Q", scale=xs, axis=bx)
    src = alt.Chart(df).transform_filter(alt.datum.taxon == taxon)
    layers = [
        alt.Chart(zdf).mark_rule(color=ZONE_COLOR, strokeWidth=0.9).encode(
            y=yq, x=alt.value(0), x2=alt.value(W)),
        src.mark_rule(color="#555555", strokeWidth=0.5).encode(x=xq, x2=alt.value(0), y=yq),
        src.mark_line(color="black", strokeWidth=0.8).encode(x=xq, y=yq, order="age:Q"),
        alt.Chart(ONE).mark_rule(color="black", strokeWidth=0.8).encode(
            x=alt.datum(0), y=alt.value(0), y2=alt.value(H)),
        alt.Chart(ONE).mark_rule(color="black", strokeWidth=0.7).encode(
            x=alt.datum(0), x2=alt.datum(vmax), y=alt.value(0)),
        alt.Chart(tdf).transform_filter(alt.datum.taxon == taxon).mark_rule(
            color="black", strokeWidth=0.7).encode(
            x=alt.X("t:Q", scale=xs, axis=bx), y=alt.value(0), y2=alt.value(3)),
    ]
    if taxon == "Pollen concentration":
        layers.append(txt("Pollen", -6.6, -8, angle=HEAD_ANGLE))
        layers.append(txt("concentration", 3.4, -5, angle=HEAD_ANGLE))
    else:
        layers.append(txt(taxon, -4.5, -8, angle=HEAD_ANGLE))
    if i == len(c["taxa"]) - 1:
        zl = pd.DataFrame({"age": c["zone_age"], "num": c["zone_num"], "veg": c["zone_veg"]})
        layers.append(alt.Chart(zl).mark_text(align="center", baseline="alphabetic", dy=3.5,
                                              fontSize=9.5, font=FONT, color="black").encode(
            y=yq, x=alt.value(634.5 - left), text="num:N"))
        layers.append(alt.Chart(zl).mark_text(align="left", baseline="alphabetic", dy=3.5,
                                              fontSize=9.5, font=FONT, color="black",
                                              lineBreak="\n", lineHeight=11).encode(
            y=yq, x=alt.value(648.3 - left), text="veg:N"))
        if c["name"] == "SRM":
            layers.append(txt("Zones", 23.4, -6.3, angle=HEAD_ANGLE))
            layers.append(txt("Inferred", 45, -11.5, angle=HEAD_ANGLE))
            layers.append(txt("vegetation", 50, -5, angle=HEAD_ANGLE))
    if c["name"] == "SRS-4" and taxon == "Amaranthaceae":
        layers.append(txt("X 10", 314 - left, 861.5 - top, fs=9, baseline="alphabetic"))
        layers.append(txt("2", 333 - left, 857 - top, fs=6.5, baseline="alphabetic"))
        layers.append(txt("counts / cm", 337.5 - left, 861.5 - top, fs=9, baseline="alphabetic"))
        layers.append(txt("3", 384 - left, 857 - top, fs=6.5, baseline="alphabetic"))
    return alt.layer(*layers).properties(width=W, height=H)


def build_row(c):
    ys = alt.Scale(domain=[0, c["amax"]], reverse=True, nice=False, zero=False)
    df = long_df(c["name"], c["ages"], c["taxa"], c["series"])
    zdf = pd.DataFrame({"age": c["zone_lines"]})
    rows = []
    for t, l, r, m in zip(c["taxa"], c["left"], c["right"], c["vmax"]):
        for v in tick_values(m, r - l):
            rows.append((t, v))
    tdf = pd.DataFrame(rows, columns=["taxon", "t"])
    n = len(c["taxa"])
    charts = [left_chart(c, ys, zdf)]
    for i in range(n):
        W = (c["left"][i + 1] if i < n - 1 else X_ZONE_END) - c["left"][i]
        charts.append(column_chart(c, i, df, tdf, zdf, ys, W))
    return alt.hconcat(*charts, spacing=0, bounds="flush")


rows = [build_row(c) for c in CORES]
# flush-bounded rows are stacked by their plot tops, so each spacing is the
# distance between consecutive plot tops
inner2 = alt.vconcat(rows[2], rows[3], spacing=CORES[3]["top"] - CORES[2]["top"], bounds="flush")
inner1 = alt.vconcat(rows[1], inner2, spacing=CORES[2]["top"] - CORES[1]["top"], bounds="flush")
chart = alt.vconcat(rows[0], inner1, spacing=CORES[1]["top"] - CORES[0]["top"], bounds="flush")
chart = chart.properties(padding=0).configure(font=FONT).configure_view(stroke=None)

chart.save("out.html", embed_options={"renderer": "svg", "actions": False})
